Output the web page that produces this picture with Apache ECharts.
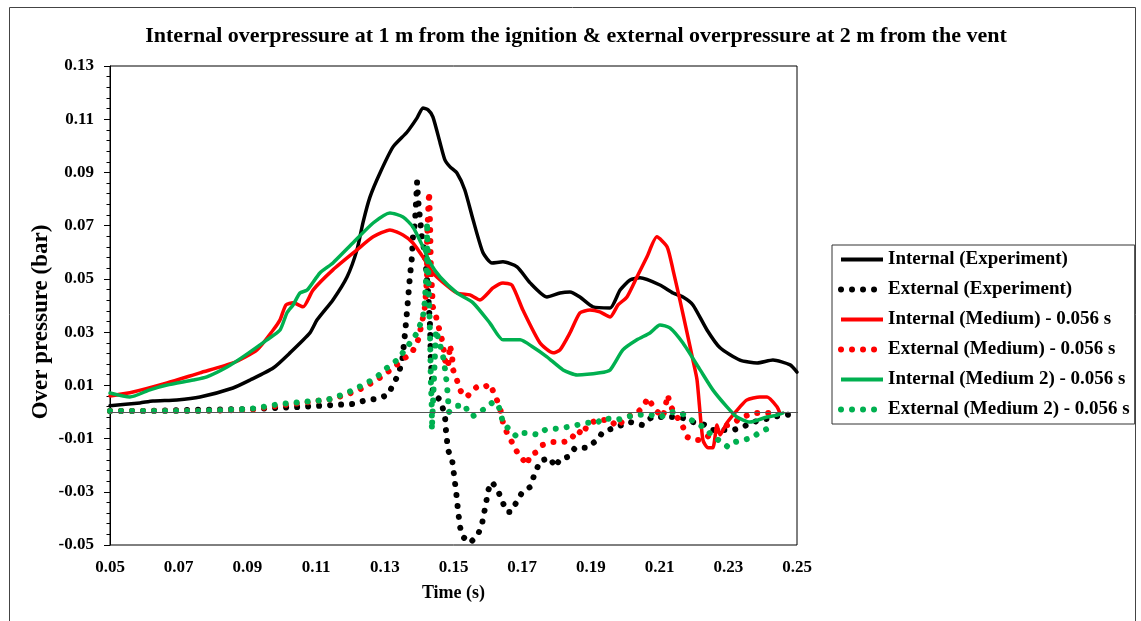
<!DOCTYPE html>
<html>
<head>
<meta charset="utf-8">
<script src="https://cdn.jsdelivr.net/npm/echarts@6.0.0/dist/echarts.min.js"></script>
<style>
  html, body { margin: 0; padding: 0; background: #fff; }
  #chart { width: 1141px; height: 621px; }
</style>
</head>
<body>
<div id="chart"></div>
<script>
// Tick positions
const xTicks = [0.05, 0.07, 0.09, 0.11, 0.13, 0.15, 0.17, 0.19, 0.21, 0.23, 0.25];
const yTicks = [-0.05, -0.03, -0.01, 0.01, 0.03, 0.05, 0.07, 0.09, 0.11, 0.13];

// Internal (Experiment)
const intExpT = [0.0500, 0.0587, 0.0625, 0.0695, 0.0762, 0.0858, 0.0908, 0.0975, 0.1024, 0.1082, 0.1103, 0.1149, 0.1190, 0.1219, 0.1237, 0.1257, 0.1286, 0.1324, 0.1365, 0.1394, 0.1411, 0.1426, 0.1440, 0.1461, 0.1475, 0.1490, 0.1510, 0.1533, 0.1557, 0.1586, 0.1612, 0.1644, 0.1685, 0.1723, 0.1772, 0.1810, 0.1839, 0.1868, 0.1906, 0.1956, 0.1985, 0.2014, 0.2043, 0.2101, 0.2139, 0.2168, 0.2197, 0.2238, 0.2276, 0.2334, 0.2384, 0.2430, 0.2480, 0.2500];
const intExpP = [0.0023, 0.0034, 0.0041, 0.0045, 0.0056, 0.0090, 0.0120, 0.0165, 0.0222, 0.0297, 0.0346, 0.0421, 0.0507, 0.0609, 0.0714, 0.0808, 0.0898, 0.0996, 0.1052, 0.1105, 0.1142, 0.1135, 0.1109, 0.1011, 0.0947, 0.0921, 0.0898, 0.0834, 0.0722, 0.0598, 0.0560, 0.0564, 0.0545, 0.0485, 0.0432, 0.0447, 0.0451, 0.0432, 0.0395, 0.0391, 0.0458, 0.0496, 0.0504, 0.0477, 0.0447, 0.0432, 0.0402, 0.0308, 0.0241, 0.0195, 0.0184, 0.0195, 0.0177, 0.0150];

// External (Experiment)
const extExpT = [0.0500, 0.0616, 0.0762, 0.0908, 0.1053, 0.1149, 0.1207, 0.1248, 0.1277, 0.1309, 0.1336, 0.1350, 0.1359, 0.1365, 0.1373, 0.1379, 0.1382, 0.1388, 0.1394, 0.1397, 0.1402, 0.1408, 0.1417, 0.1426, 0.1432, 0.1434, 0.1440, 0.1461, 0.1475, 0.1478, 0.1484, 0.1496, 0.1502, 0.1508, 0.1513, 0.1519, 0.1528, 0.1548, 0.1571, 0.1583, 0.1589, 0.1595, 0.1600, 0.1612, 0.1630, 0.1641, 0.1656, 0.1667, 0.1682, 0.1699, 0.1723, 0.1734, 0.1752, 0.1781, 0.1796, 0.1810, 0.1833, 0.1854, 0.1889, 0.1918, 0.1935, 0.2014, 0.2049, 0.2078, 0.2139, 0.2168, 0.2197, 0.2226, 0.2255, 0.2314, 0.2343, 0.2372, 0.2401, 0.2430, 0.2465, 0.2500];
const extExpP = [0.0004, 0.0004, 0.0008, 0.0011, 0.0019, 0.0026, 0.0030, 0.0045, 0.0049, 0.0064, 0.0132, 0.0184, 0.0297, 0.0383, 0.0507, 0.0582, 0.0658, 0.0714, 0.0864, 0.0797, 0.0733, 0.0658, 0.0590, 0.0447, 0.0319, 0.0195, 0.0071, 0.0045, -0.0011, -0.0068, -0.0143, -0.0180, -0.0241, -0.0304, -0.0368, -0.0432, -0.0470, -0.0492, -0.0462, -0.0421, -0.0380, -0.0342, -0.0297, -0.0263, -0.0297, -0.0334, -0.0376, -0.0376, -0.0342, -0.0304, -0.0282, -0.0241, -0.0184, -0.0173, -0.0207, -0.0177, -0.0169, -0.0135, -0.0135, -0.0105, -0.0075, -0.0038, -0.0049, -0.0019, -0.0019, -0.0023, -0.0038, -0.0045, -0.0068, -0.0068, -0.0056, -0.0038, -0.0030, -0.0019, -0.0011, -0.0008];

// Internal (Medium) - 0.056 s
const intMedT = [0.0500, 0.0567, 0.0666, 0.0762, 0.0858, 0.0928, 0.0975, 0.0995, 0.1012, 0.1033, 0.1062, 0.1091, 0.1149, 0.1219, 0.1266, 0.1315, 0.1353, 0.1382, 0.1411, 0.1440, 0.1461, 0.1510, 0.1548, 0.1577, 0.1615, 0.1644, 0.1670, 0.1702, 0.1752, 0.1790, 0.1810, 0.1839, 0.1868, 0.1897, 0.1926, 0.1956, 0.1979, 0.2005, 0.2034, 0.2063, 0.2092, 0.2122, 0.2139, 0.2159, 0.2180, 0.2197, 0.2209, 0.2226, 0.2241, 0.2255, 0.2267, 0.2276, 0.2296, 0.2334, 0.2354, 0.2392, 0.2413, 0.2442, 0.2450];
const intMedP = [0.0060, 0.0075, 0.0109, 0.0147, 0.0184, 0.0233, 0.0308, 0.0346, 0.0402, 0.0410, 0.0395, 0.0458, 0.0534, 0.0609, 0.0658, 0.0684, 0.0665, 0.0635, 0.0582, 0.0522, 0.0496, 0.0447, 0.0440, 0.0421, 0.0466, 0.0485, 0.0477, 0.0383, 0.0259, 0.0222, 0.0233, 0.0297, 0.0372, 0.0383, 0.0376, 0.0357, 0.0402, 0.0432, 0.0507, 0.0582, 0.0658, 0.0620, 0.0534, 0.0421, 0.0297, 0.0195, 0.0120, -0.0105, -0.0135, -0.0135, -0.0049, -0.0086, -0.0041, 0.0019, 0.0045, 0.0056, 0.0056, 0.0019, -0.0004];

// External (Medium) - 0.056 s
const extMedT = [0.0500, 0.0762, 0.0908, 0.1004, 0.1062, 0.1149, 0.1219, 0.1277, 0.1324, 0.1350, 0.1379, 0.1397, 0.1408, 0.1417, 0.1423, 0.1423, 0.1426, 0.1429, 0.1432, 0.1434, 0.1437, 0.1440, 0.1452, 0.1461, 0.1469, 0.1475, 0.1484, 0.1490, 0.1496, 0.1499, 0.1510, 0.1519, 0.1528, 0.1539, 0.1557, 0.1568, 0.1586, 0.1606, 0.1618, 0.1630, 0.1641, 0.1644, 0.1656, 0.1670, 0.1685, 0.1699, 0.1714, 0.1723, 0.1743, 0.1760, 0.1790, 0.1819, 0.1839, 0.1860, 0.1877, 0.1889, 0.1918, 0.1956, 0.1976, 0.2005, 0.2034, 0.2052, 0.2066, 0.2087, 0.2110, 0.2124, 0.2130, 0.2151, 0.2168, 0.2180, 0.2197, 0.2226, 0.2255, 0.2285, 0.2314, 0.2343, 0.2372, 0.2430, 0.2445];
const extMedP = [0.0004, 0.0004, 0.0008, 0.0026, 0.0034, 0.0049, 0.0079, 0.0120, 0.0165, 0.0195, 0.0222, 0.0271, 0.0334, 0.0395, 0.0507, 0.0635, 0.0748, 0.0827, 0.0695, 0.0545, 0.0470, 0.0395, 0.0346, 0.0297, 0.0259, 0.0195, 0.0169, 0.0252, 0.0207, 0.0158, 0.0120, 0.0083, 0.0064, 0.0056, 0.0083, 0.0094, 0.0090, 0.0105, 0.0071, 0.0034, -0.0011, -0.0041, -0.0079, -0.0113, -0.0150, -0.0173, -0.0199, -0.0162, -0.0150, -0.0124, -0.0113, -0.0113, -0.0109, -0.0068, -0.0086, -0.0049, -0.0030, -0.0030, -0.0056, -0.0019, -0.0004, 0.0019, 0.0053, 0.0008, -0.0019, 0.0064, 0.0026, -0.0019, -0.0056, -0.0094, -0.0105, -0.0105, -0.0079, -0.0056, -0.0041, -0.0019, -0.0004, -0.0004, -0.0004];

// Internal (Medium 2) - 0.056 s
const intMed2T = [0.0500, 0.0558, 0.0616, 0.0666, 0.0742, 0.0782, 0.0841, 0.0887, 0.0957, 0.0995, 0.1015, 0.1033, 0.1053, 0.1074, 0.1111, 0.1149, 0.1207, 0.1266, 0.1315, 0.1353, 0.1382, 0.1411, 0.1432, 0.1461, 0.1510, 0.1557, 0.1606, 0.1644, 0.1694, 0.1731, 0.1772, 0.1819, 0.1860, 0.1926, 0.1956, 0.1993, 0.2034, 0.2072, 0.2101, 0.2130, 0.2168, 0.2218, 0.2255, 0.2296, 0.2325, 0.2363, 0.2413, 0.2445, 0.2459];
const intMed2P = [0.0071, 0.0056, 0.0083, 0.0101, 0.0120, 0.0132, 0.0169, 0.0207, 0.0271, 0.0308, 0.0372, 0.0402, 0.0447, 0.0458, 0.0522, 0.0560, 0.0635, 0.0710, 0.0748, 0.0733, 0.0695, 0.0620, 0.0560, 0.0507, 0.0447, 0.0410, 0.0334, 0.0271, 0.0271, 0.0244, 0.0207, 0.0158, 0.0139, 0.0147, 0.0158, 0.0233, 0.0271, 0.0297, 0.0327, 0.0316, 0.0259, 0.0158, 0.0083, 0.0019, -0.0019, -0.0038, -0.0019, -0.0011, -0.0004];

// External (Medium 2) - 0.056 s
const extMed2T = [0.0500, 0.0762, 0.0908, 0.0995, 0.1062, 0.1132, 0.1190, 0.1248, 0.1277, 0.1306, 0.1336, 0.1365, 0.1394, 0.1411, 0.1417, 0.1423, 0.1423, 0.1426, 0.1429, 0.1432, 0.1434, 0.1437, 0.1437, 0.1449, 0.1461, 0.1472, 0.1481, 0.1487, 0.1499, 0.1513, 0.1534, 0.1542, 0.1557, 0.1577, 0.1598, 0.1612, 0.1627, 0.1635, 0.1644, 0.1664, 0.1685, 0.1702, 0.1723, 0.1746, 0.1766, 0.1790, 0.1819, 0.1860, 0.1889, 0.1918, 0.1935, 0.1976, 0.2005, 0.2028, 0.2072, 0.2101, 0.2139, 0.2165, 0.2180, 0.2209, 0.2238, 0.2255, 0.2282, 0.2299, 0.2320, 0.2343, 0.2369, 0.2392, 0.2427];
const extMed2P = [0.0004, 0.0004, 0.0011, 0.0030, 0.0038, 0.0045, 0.0071, 0.0109, 0.0132, 0.0165, 0.0195, 0.0244, 0.0297, 0.0357, 0.0421, 0.0571, 0.0714, 0.0571, 0.0421, 0.0271, 0.0120, 0.0008, -0.0068, 0.0308, 0.0252, 0.0195, 0.0101, 0.0000, 0.0015, 0.0023, 0.0026, -0.0004, -0.0015, 0.0000, 0.0019, 0.0034, 0.0034, 0.0008, -0.0041, -0.0068, -0.0094, -0.0079, -0.0079, -0.0086, -0.0068, -0.0064, -0.0060, -0.0049, -0.0041, -0.0041, -0.0023, -0.0030, -0.0019, -0.0011, -0.0011, -0.0019, 0.0000, -0.0004, -0.0023, -0.0041, -0.0068, -0.0094, -0.0113, -0.0132, -0.0113, -0.0105, -0.0098, -0.0075, -0.0056];

const FONT = '"Liberation Serif", "Times New Roman", serif';
const SOLID_W = 3.5;
const DOT_W = 6;
const DOT_DASH = [0.01, 11];

function pairs(t, p) {
  return t.map((v, i) => [v, p[i]]);
}

// Minor y ticks: four between each pair of labelled ticks
const yMinorTicks = [];
for (let i = 0; i < yTicks.length - 1; i++) {
  const a = yTicks[i], b = yTicks[i + 1];
  for (let k = 1; k < 5; k++) yMinorTicks.push(+(a + (b - a) * k / 5).toFixed(4));
}

function solid(name, color, t, p) {
  return {
    name, type: 'line', data: pairs(t, p), symbol: 'none',
    smooth: 0.2,
    itemStyle: { color },
    lineStyle: { color, width: SOLID_W, cap: 'round', join: 'round' }
  };
}
function dotted(name, color, t, p) {
  return {
    name, type: 'line', data: pairs(t, p), symbol: 'none',
    itemStyle: { color },
    lineStyle: { color, width: DOT_W, type: DOT_DASH, cap: 'round', join: 'round' }
  };
}

const series = [
  solid('Internal (Experiment)', '#000000', intExpT, intExpP),
  dotted('External (Experiment)', '#000000', extExpT, extExpP),
  solid('Internal (Medium) - 0.056 s', '#ff0000', intMedT, intMedP),
  dotted('External (Medium) - 0.056 s', '#ff0000', extMedT, extMedP),
  solid('Internal (Medium 2) - 0.056 s', '#00b050', intMed2T, intMed2P),
  dotted('External (Medium 2) - 0.056 s', '#00b050', extMed2T, extMed2P)
];
// zero reference line
series[0].markLine = {
  silent: true, symbol: 'none', label: { show: false },
  lineStyle: { color: '#555', width: 1, type: 'solid' },
  data: [{ yAxis: 0 }]
};

const legendData = series.map(s => ({
  name: s.name,
  lineStyle: s.lineStyle.type ? { width: DOT_W, type: DOT_DASH, cap: 'round' } : { width: 4, cap: 'butt' }
}));

const chart = echarts.init(document.getElementById('chart'), null, { renderer: 'canvas' });
chart.setOption({
  animation: false,
  backgroundColor: '#fff',
  title: {
    text: 'Internal overpressure at 1 m from the ignition & external overpressure at 2 m from the vent',
    left: 571, top: 20, textAlign: 'center',
    textStyle: { fontFamily: FONT, fontWeight: 'bold', fontSize: 22, color: '#000' }
  },
  graphic: [{
    type: 'rect', silent: true, z: -1,
    shape: { x: 9.5, y: 7.5, width: 1126, height: 700 },
    style: { fill: 'none', stroke: '#444', lineWidth: 1 }
  }, {
    // y-axis title
    type: 'text', silent: true,
    x: 41, y: 322, rotation: Math.PI / 2,
    style: {
      text: 'Over pressure (bar)', align: 'center', verticalAlign: 'middle',
      fontFamily: FONT, fontWeight: 'bold', fontSize: 23, fill: '#000'
    }
  }],
  legend: {
    data: legendData,
    orient: 'vertical', left: 832, top: 245,
    padding: [5, 5, 5, 6], itemGap: 11,
    itemWidth: 42, itemHeight: 19,
    borderColor: '#333', borderWidth: 1,
    itemStyle: { opacity: 0 },
    textStyle: { fontFamily: FONT, fontWeight: 'bold', fontSize: 19, color: '#000' },
    selectedMode: false
  },
  grid: {
    left: 110, top: 66, right: 344, bottom: 76,
    show: true, borderColor: '#000', borderWidth: 1, backgroundColor: 'transparent'
  },
  xAxis: {
    type: 'value', min: 0.05, max: 0.25,
    name: 'Time (s)', nameLocation: 'middle', nameGap: 39,
    nameTextStyle: { fontFamily: FONT, fontWeight: 'bold', fontSize: 18, color: '#000' },
    axisLine: { show: true, lineStyle: { color: '#000', width: 1 } },
    axisTick: { show: false },
    splitLine: { show: false },
    axisLabel: {
      customValues: xTicks, margin: 14,
      fontFamily: FONT, fontWeight: 'bold', fontSize: 17, color: '#000',
      formatter: v => v.toFixed(2)
    }
  },
  yAxis: [{
    type: 'value', min: -0.05, max: 0.13,
    axisLine: { show: true, lineStyle: { color: '#000', width: 1 } },
    axisTick: { show: true, customValues: yTicks, length: 6, lineStyle: { color: '#000' } },
    splitLine: { show: false },
    axisLabel: {
      customValues: yTicks, margin: 16,
      fontFamily: FONT, fontWeight: 'bold', fontSize: 17, color: '#000',
      formatter: v => v.toFixed(2)
    }
  }, {
    type: 'value', min: -0.05, max: 0.13, position: 'left',
    axisLine: { show: false },
    axisTick: { show: true, customValues: yMinorTicks, length: 3.5, lineStyle: { color: '#000' } },
    axisLabel: { show: false },
    splitLine: { show: false }
  }],
  series
});
</script>
</body>
</html>
